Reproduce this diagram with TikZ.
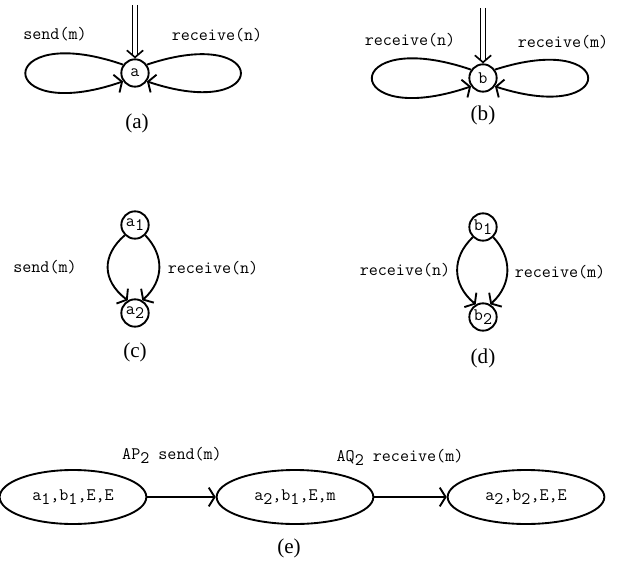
\documentclass[tikz,border=0pt]{standalone}
\usepackage{fontspec}
\setmainfont{Liberation Serif}
\usetikzlibrary{arrows.meta,shapes.geometric}
\newcommand{\lowr}[1]{\raisebox{-0.55ex}{#1}}
\begin{document}
\begin{tikzpicture}[x=0.03cm,y=-0.03cm,line width=1.6pt,
  every node/.style={font=\fontsize{15}{17}\selectfont\ttfamily},
  state/.style={circle,draw,minimum size=0.82cm,inner sep=0pt},
  conf/.style={ellipse,draw,minimum width=4.7cm,minimum height=1.62cm,inner sep=0pt},
  figlbl/.style={font=\fontsize{18}{20}\selectfont\rmfamily},
  tip/.style={-{Straight Barb[length=5pt,width=16pt]}},
  init/.style={double,double distance=3pt,line width=1.3pt,shorten >=3pt},
  initip/.style={draw=white,line width=1pt,
    -{Straight Barb[black,length=6pt,width=14pt,line width=1.4pt]}}]
  \useasboundingbox (0,0) rectangle (626,564);
  % (a)
  \node[state] (a) at (135,73) {a};
  \coordinate (ina) at (135,5);
  \draw[init] (ina) -- (a);
  \draw[initip] (ina) -- (a);
  \draw[tip] (a.145) .. controls +(-130,-45) and +(-130,45) .. (a.215);
  \draw[tip] (a.35) .. controls +(125,-42) and +(125,42) .. (a.-35);
  \node (sa) at (55,34) {send(m)};
  \node (ra) at (217,35) {receive(n)};
  \node[figlbl] (lbla) at (137,123) {(a)};
  % (b)
  \node[state] (b) at (483,78) {b};
  \coordinate (inb) at (483,8);
  \draw[init] (inb) -- (b);
  \draw[initip] (inb) -- (b);
  \draw[tip] (b.145) .. controls +(-132,-45) and +(-132,45) .. (b.215);
  \draw[tip] (b.35) .. controls +(124,-40) and +(124,40) .. (b.-35);
  \node (rb1) at (410,40) {receive(n)};
  \node (rb2) at (563,42) {receive(m)};
  \node[figlbl] (lblb) at (483,115) {(b)};
  % (c)
  \node[state] (a1) at (135,225) {a\lowr{1}};
  \node[state] (a2) at (135,313) {a\lowr{2}};
  \draw[tip] (a1.225) .. controls +(-23,20) and +(-26,-20) .. (a2.120);
  \draw[tip] (a1.-45) .. controls +(19,20) and +(22,-20) .. (a2.60);
  \node (sc) at (45,267) {send(m)};
  \node (rc) at (213,268) {receive(n)};
  \node[figlbl] (lblc) at (135,352) {(c)};
  % (d)
  \node[state] (b1) at (483,227) {b\lowr{1}};
  \node[state] (b2) at (483,317) {b\lowr{2}};
  \draw[tip] (b1.225) .. controls +(-21,20) and +(-24,-20) .. (b2.120);
  \draw[tip] (b1.-45) .. controls +(19,20) and +(22,-20) .. (b2.60);
  \node (rd1) at (405,270) {receive(n)};
  \node (rd2) at (560,272) {receive(m)};
  \node[figlbl] (lbld) at (483,358) {(d)};
  % (e)
  \node[conf,minimum width=4.4cm] (s1) at (73,497) {a\lowr{1},b\lowr{1},E,E};
  \node[conf] (s2) at (295,497) {a\lowr{2},b\lowr{1},E,m};
  \node[conf] (s3) at (526,497) {a\lowr{2},b\lowr{2},E,E};
  \draw[tip] (s1) -- (s2);
  \draw[tip] (s2) -- (s3);
  \node (ap) at (172,455) {AP\lowr{2} send(m)};
  \node (aq) at (400,457) {AQ\lowr{2} receive(m)};
  \node[figlbl] (lble) at (289,548) {(e)};
\end{tikzpicture}
\end{document}
